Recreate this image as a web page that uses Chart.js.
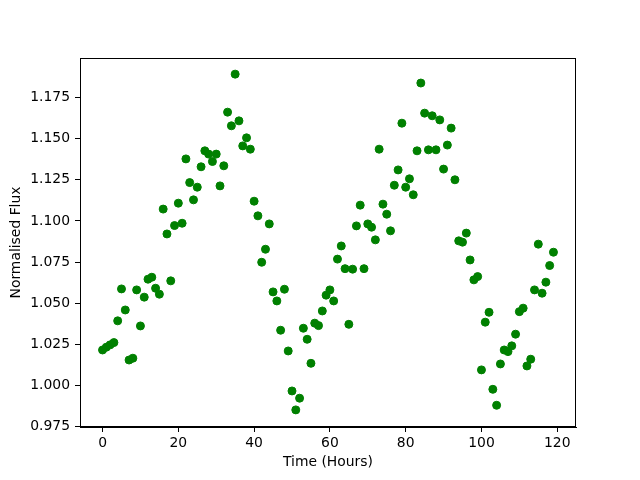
<!DOCTYPE html>
<html>
<head>
<meta charset="utf-8">
<script src="https://cdn.jsdelivr.net/npm/chart.js@4"></script>
<style>
  html, body { margin: 0; padding: 0; background: #fff; }
  #wrap { width: 640px; height: 480px; }
</style>
</head>
<body>
<div id="wrap"><canvas id="fluxChart" width="640" height="480"></canvas></div>
<script>
// time in hours since start
const hours = [
  0, 1, 2, 3, 4, 5, 6, 7, 8, 9, 10, 11, 12, 13, 14, 15, 16, 17, 18, 19,
  20, 21, 22, 23, 24, 25, 26, 27, 28, 29, 30, 31, 32, 33, 34, 35, 36, 37, 38, 39,
  40, 41, 42, 43, 44, 45, 46, 47, 48, 49, 50, 51, 52, 53, 54, 55, 56, 57, 58, 59,
  60, 61, 62, 63, 64, 65, 66, 67, 68, 69, 70, 71, 72, 73, 74, 75, 76, 77, 78, 79,
  80, 81, 82, 83, 84, 85, 86, 87, 88, 89, 90, 91, 92, 93, 94, 95, 96, 97, 98, 99,
  100, 101, 102, 103, 104, 105, 106, 107, 108, 109, 110, 111, 112, 113, 114, 115, 116, 117, 118, 119
];

// normalised flux
const flux = [
  1.0216, 1.0233, 1.0247, 1.0261, 1.0393, 1.0587, 1.0459, 1.0155, 1.0166, 1.0581,
  1.0362, 1.0537, 1.0646, 1.0658, 1.0591, 1.0555, 1.1072, 1.0921, 1.0636, 1.0972,
  1.1108, 1.0986, 1.1377, 1.1233, 1.1128, 1.1205, 1.1329, 1.1426, 1.1406, 1.1361,
  1.1406, 1.1213, 1.1335, 1.1661, 1.1578, 1.1892, 1.1608, 1.1456, 1.1505, 1.1436,
  1.1120, 1.1031, 1.0749, 1.0828, 1.0982, 1.0569, 1.0514, 1.0336, 1.0585, 1.0210,
  0.9967, 0.9852, 0.9923, 1.0348, 1.0281, 1.0135, 1.0379, 1.0364, 1.0453, 1.0549,
  1.0581, 1.0514, 1.0768, 1.0848, 1.0710, 1.0372, 1.0707, 1.0970, 1.1096, 1.0710,
  1.0982, 1.0962, 1.0885, 1.1436, 1.1102, 1.1041, 1.0940, 1.1217, 1.1310, 1.1594,
  1.1205, 1.1256, 1.1159, 1.1426, 1.1838, 1.1655, 1.1432, 1.1639, 1.1432, 1.1614,
  1.1315, 1.1461, 1.1564, 1.1250, 1.0879, 1.0871, 1.0926, 1.0763, 1.0642, 1.0662,
  1.0095, 1.0385, 1.0445, 0.9977, 0.9880, 1.0131, 1.0216, 1.0206, 1.0241, 1.0312,
  1.0449, 1.0470, 1.0119, 1.0160, 1.0581, 1.0859, 1.0561, 1.0628, 1.0729, 1.0810
];

const xTicks = [0, 20, 40, 60, 80, 100, 120];
const yTicks = [0.975, 1.000, 1.025, 1.050, 1.075, 1.100, 1.125, 1.150, 1.175];

const xLimits = [-5.95, 124.95];
const yLimits = [0.9748, 1.1990];

const tickFont = { family: "DejaVu Sans", size: 13.9 };

function toScatter(xs, ys) {
  return xs.map((x, i) => ({ x: x, y: ys[i] }));
}

// top and right spines, like a matplotlib axes box
const boxPlugin = {
  id: "box",
  afterDraw(chart) {
    const a = chart.chartArea;
    const ctx = chart.ctx;
    ctx.save();
    ctx.strokeStyle = "#000";
    ctx.lineWidth = 1;
    ctx.strokeRect(Math.round(a.left) + 0.5, Math.round(a.top) + 0.5,
      Math.round(a.right - a.left) - 1, Math.round(a.bottom - a.top) - 1);
    ctx.restore();
  },
};

const config = {
  type: "scatter",
  data: {
    datasets: [
      {
        label: "flux",
        data: toScatter(hours, flux),
        backgroundColor: "#008000",
        borderColor: "#008000",
        borderWidth: 1,
        pointRadius: 4,
        pointHoverRadius: 4,
      },
    ],
  },
  options: {
    responsive: false,
    animation: false,
    events: [],
    layout: { padding: { top: 58, right: 64, left: 0, bottom: 0 } },
    plugins: {
      legend: { display: false },
      tooltip: { enabled: false },
    },
    scales: {
      x: {
        type: "linear",
        min: xLimits[0],
        max: xLimits[1],
        afterFit: (scale) => { scale.height = 53; },
        afterBuildTicks: (scale) => { scale.ticks = xTicks.map((v) => ({ value: v })); },
        grid: { drawOnChartArea: false, drawTicks: true, tickLength: 5, color: "#000" },
        border: { display: true, color: "#000", width: 1 },
        ticks: {
          color: "#000",
          font: tickFont,
          padding: 3,
          maxRotation: 0,
          callback: (v) => String(v),
        },
        title: {
          display: true,
          text: "Time (Hours)",
          color: "#000",
          font: tickFont,
          padding: { top: 0, bottom: 9 },
        },
      },
      y: {
        type: "linear",
        min: yLimits[0],
        max: yLimits[1],
        afterFit: (scale) => { scale.width = 80; },
        afterBuildTicks: (scale) => { scale.ticks = yTicks.map((v) => ({ value: v })); },
        grid: { drawOnChartArea: false, drawTicks: true, tickLength: 5, color: "#000" },
        border: { display: true, color: "#000", width: 1 },
        ticks: {
          color: "#000",
          font: tickFont,
          padding: 5,
          callback: (v) => v.toFixed(3),
        },
        title: {
          display: true,
          text: "Normalised Flux",
          color: "#000",
          font: tickFont,
          padding: { top: 8, bottom: 0 },
        },
      },
    },
  },
  plugins: [boxPlugin],
};

new Chart(document.getElementById("fluxChart"), config);
</script>
</body>
</html>
